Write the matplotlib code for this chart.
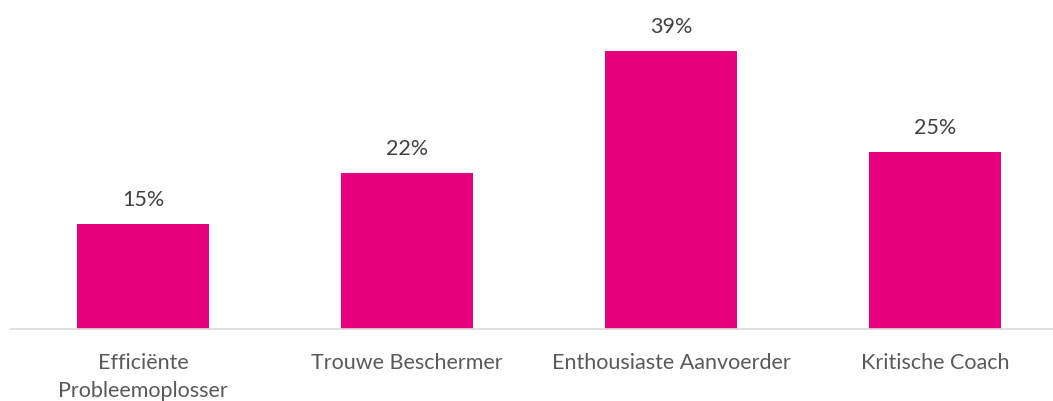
import matplotlib
matplotlib.use("Agg")
from matplotlib import pyplot as plt

categories = ["Efficiënte\nProbleemoplosser", "Trouwe Beschermer",
              "Enthousiaste Aanvoerder", "Kritische Coach"]
values = [14.8, 22.0, 39.2, 24.9]
labels = ["15%", "22%", "39%", "25%"]

plt.rcParams['font.family'] = ['Lato', 'DejaVu Sans']

fig = plt.figure(figsize=(10.53, 4.01), dpi=100)
ax = fig.add_axes([11 / 1053, (401 - 329) / 401, (1053 - 11) / 1053, 329 / 401])

x = list(range(len(categories)))
bars = ax.bar(x, values, width=0.5, color="#E6007E")

for b, lab in zip(bars, labels):
    ax.annotate(lab, (b.get_x() + b.get_width() / 2, b.get_height()),
                xytext=(0, 13), textcoords="offset points", ha="center",
                va="baseline", fontsize=15.5, color="#404040")

ax.set_xlim(-0.5, -0.5 + 1042 / 264)
ax.set_ylim(0, 329 / 7.1)
ax.set_xticks(x)
ax.set_xticklabels(categories, fontsize=15.5, color="#595959", linespacing=1.5)
ax.tick_params(axis="x", length=0, pad=17)
ax.set_yticks([])
for s in ["top", "right", "left"]:
    ax.spines[s].set_visible(False)
ax.spines["bottom"].set_color("#D9D9D9")
ax.spines["bottom"].set_linewidth(1.2)

fig.savefig("out.png", dpi=100)
